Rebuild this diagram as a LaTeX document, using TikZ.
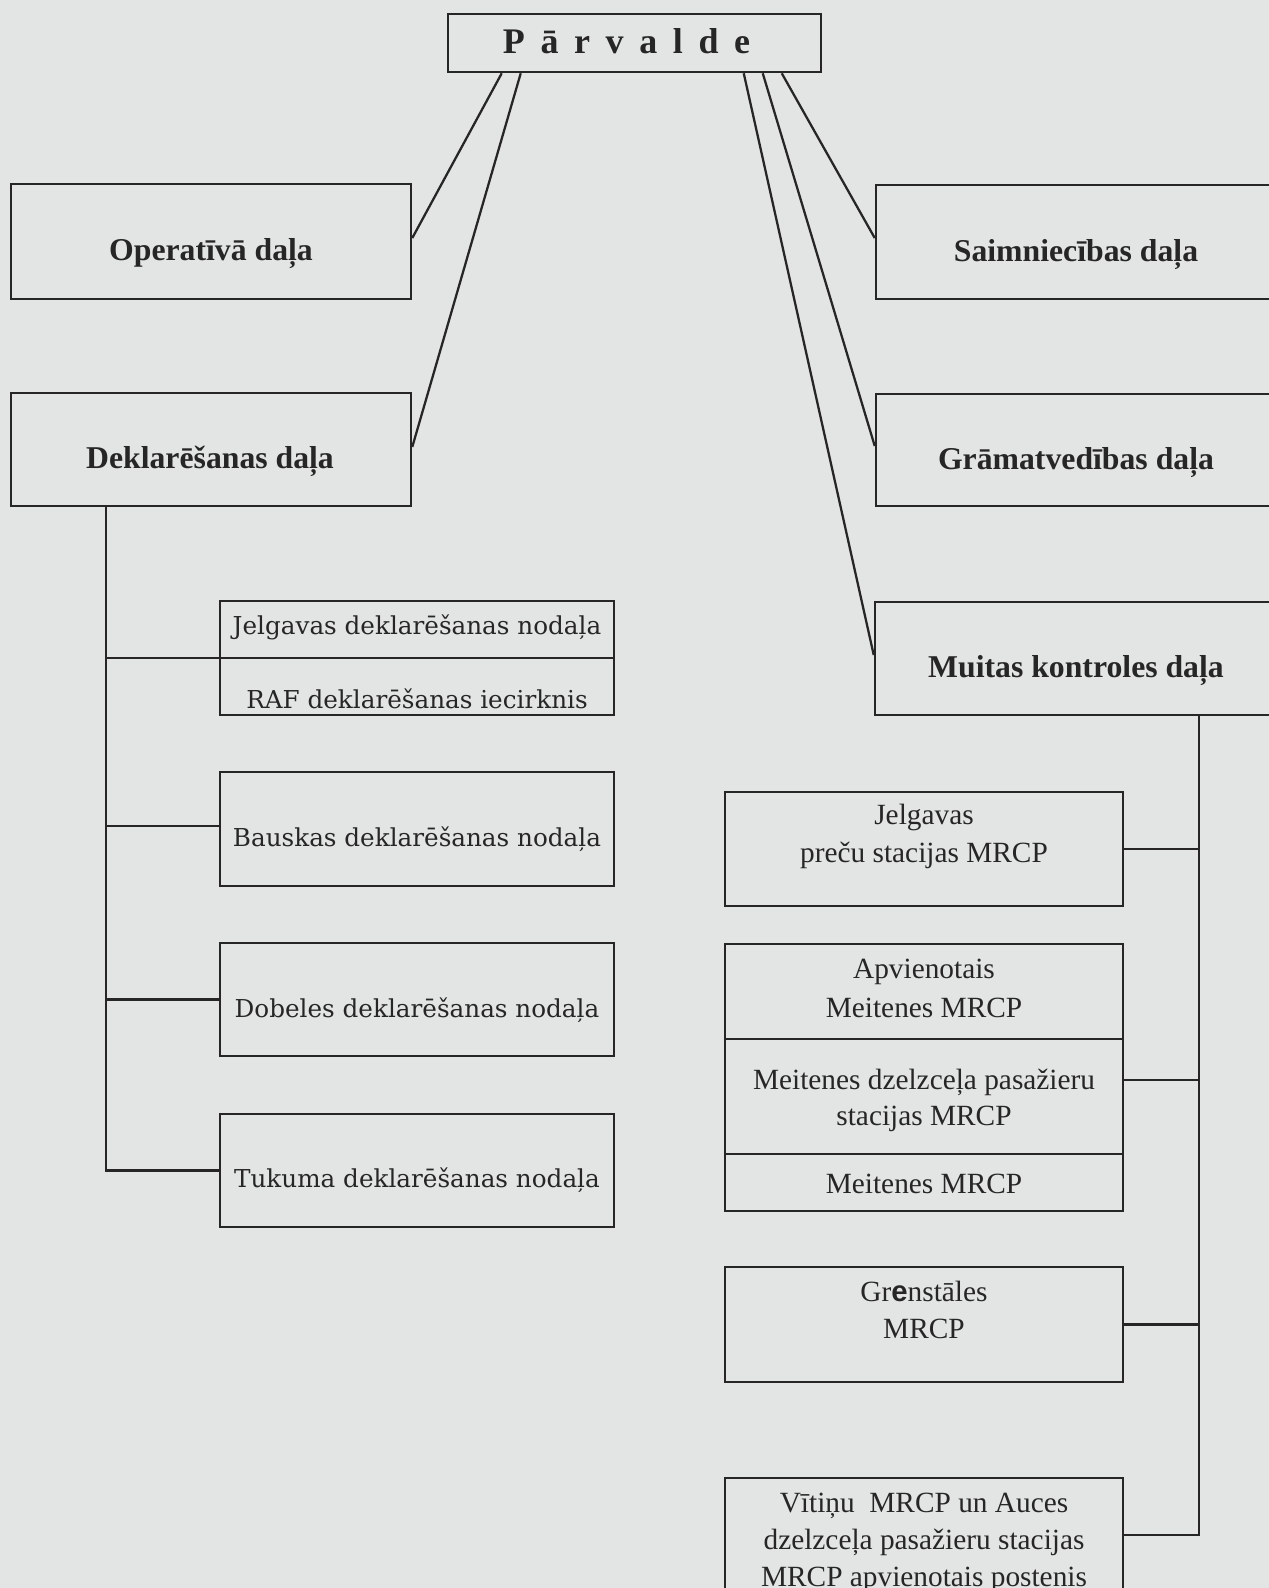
\documentclass[tikz,border=0pt]{standalone}
\usepackage{fontspec}
\setmainfont{Liberation Serif}
\newfontfamily\dvs{DejaVu Serif}
\newfontfamily\lsans{Liberation Sans}
\usetikzlibrary{calc}
\definecolor{paper}{RGB}{226,229,227}
\definecolor{ink}{RGB}{38,38,38}
\tikzset{
  box/.style={draw=ink, line width=1.9pt, inner sep=0pt, anchor=center},
  conn/.style={draw=ink, line width=1.7pt},
  head/.style={anchor=base, text=ink, inner sep=0pt, font=\fontsize{23.8pt}{28pt}\selectfont\bfseries},
  subtxt/.style={anchor=base, text=ink, inner sep=0pt, font=\dvs\fontsize{18.5pt}{22pt}\selectfont},
  rtxt/.style={anchor=base, text=ink, inner sep=0pt, font=\fontsize{22pt}{26pt}\selectfont},
  title/.style={anchor=base, text=ink, inner sep=0pt, font=\fontsize{27pt}{32pt}\selectfont\bfseries}
}
\newcommand{\gp}{\hspace{11.7pt}}
\begin{document}
\begin{tikzpicture}[x=0.75pt,y=-0.75pt]
\fill[paper] (0,0) rectangle (1269,1588);
\useasboundingbox (0,0) rectangle (1269,1588);
\clip (0,0) rectangle (1269,1588);

% boxes
\node[box, minimum width=279.75pt, minimum height=43.5pt] (parv) at (634.5,43) {};
\node[box, minimum width=300pt, minimum height=86.25pt] (oper) at (211,241.5) {};
\node[box, minimum width=300pt, minimum height=84.75pt] (dekl) at (211,449.5) {};
\node[box, minimum width=300pt, minimum height=85.5pt] (saim) at (1076,242) {};
\node[box, minimum width=300pt, minimum height=84pt] (gram) at (1076,450) {};
\node[box, minimum width=300.75pt, minimum height=84.75pt] (muit) at (1075.5,658.5) {};

\node[box, minimum width=295.5pt, minimum height=85.5pt] (jelgd) at (417,658) {};
\node[box, minimum width=295.5pt, minimum height=85.5pt] (baus) at (417,829) {};
\node[box, minimum width=295.5pt, minimum height=84.75pt] (dobe) at (417,999.5) {};
\node[box, minimum width=295.5pt, minimum height=84.75pt] (tuku) at (417,1170.5) {};

\node[box, minimum width=298.5pt, minimum height=85.5pt] (jelgp) at (924,849) {};
\node[box, minimum width=298.5pt, minimum height=200.25pt] (apv) at (924,1077.5) {};
\node[box, minimum width=298.5pt, minimum height=86.25pt] (gren) at (924,1324.5) {};
\node[box, minimum width=298.5pt, minimum height=106.5pt] (vit) at (924,1549) {};

% dividers
\draw[conn] (jelgd.west) -- (jelgd.east);
\coordinate (d1) at (0,1039);
\coordinate (d2) at (0,1154);
\draw[conn] (apv.west |- d1) -- (apv.east |- d1);
\draw[conn] (apv.west |- d2) -- (apv.east |- d2);

% texts
\node[title] (tparv) at (626.5,53.3) {P\gp ā\gp r\gp v\gp a\gp l\gp d\gp e};
\node[head] (toper) at (211,260) {Operatīvā daļa};
\node[head] (tdekl) at (210,468) {Deklarēšanas daļa};
\node[head] (tsaim) at (1076,261) {Saimniecības daļa};
\node[head] (tgram) at (1076,469) {Grāmatvedības daļa};
\node[head] (tmuit) at (1076,677) {Muitas kontroles daļa};

\node[subtxt] (t1) at (417,634) {Jelgavas deklarēšanas nodaļa};
\node[subtxt] (t2) at (417,708) {RAF deklarēšanas iecirknis};
\node[subtxt] (t3) at (417,846) {Bauskas deklarēšanas nodaļa};
\node[subtxt] (t4) at (417,1017) {Dobeles deklarēšanas nodaļa};
\node[subtxt] (t5) at (417,1187) {Tukuma deklarēšanas nodaļa};

\node[rtxt] (r1) at (924,824) {Jelgavas};
\node[rtxt] (r2) at (924,862) {preču stacijas MRCP};
\node[rtxt] (r3) at (924,978) {Apvienotais};
\node[rtxt] (r4) at (924,1017) {Meitenes MRCP};
\node[rtxt] (r5) at (924,1089) {Meitenes dzelzceļa pasažieru};
\node[rtxt] (r6) at (924,1125) {stacijas MRCP};
\node[rtxt] (r7) at (924,1193) {Meitenes MRCP};
\node[rtxt] (r8) at (924,1301) {Gr{\lsans\bfseries e}nstāles};
\node[rtxt] (r9) at (924,1338) {MRCP};
\node[rtxt] (r10) at (924,1512) {Vītiņu\ \ MRCP un Auces};
\node[rtxt] (r11) at (924,1549) {dzelzceļa pasažieru stacijas};
\node[rtxt] (r12) at (924,1586) {MRCP apvienotais postenis};

% connectors from Parvalde
\draw[conn] ([xshift=41.25pt]parv.south west) -- ([yshift=2.6pt]oper.east);
\draw[conn] ([xshift=55.5pt]parv.south west) -- ([yshift=1.9pt]dekl.east);
\draw[conn] ([xshift=222.75pt]parv.south west) -- ([yshift=2.6pt]muit.west);
\draw[conn] ([xshift=237pt]parv.south west) -- ([yshift=3pt]gram.west);
\draw[conn] ([xshift=251.25pt]parv.south west) -- ([yshift=3pt]saim.west);

% left spine
\coordinate (spineL) at (106,0);
\draw[conn] (spineL |- dekl.south) -- (spineL |- tuku.west) -- (tuku.west);
\draw[conn] (spineL |- jelgd.west) -- (jelgd.west);
\draw[conn] ([yshift=2.2pt]spineL |- baus.west) -- ([yshift=2.2pt]baus.west);
\draw[conn] (spineL |- dobe.west) -- (dobe.west);

% right spine
\coordinate (spineR) at (1199,0);
\coordinate (vitc) at ([yshift=-43.5pt]vit.north east);
\draw[conn] (spineR |- muit.south) -- (spineR |- vitc) -- (vitc);
\draw[conn] (jelgp.east) -- (spineR |- jelgp.east);
\draw[conn] ([yshift=-1.9pt]apv.east) -- ([yshift=-1.9pt]spineR |- apv.east);
\draw[conn] (gren.east) -- (spineR |- gren.east);
\end{tikzpicture}
\end{document}
